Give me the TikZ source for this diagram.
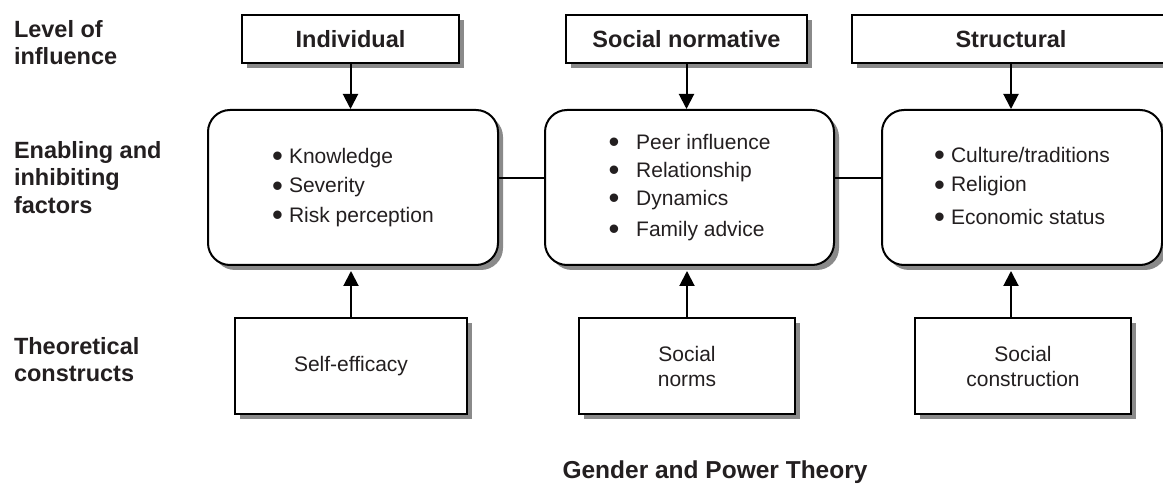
\documentclass[tikz,border=0pt]{standalone}
\usepackage{fontspec}
\setmainfont{Liberation Sans}
\usetikzlibrary{arrows.meta}
\usetikzlibrary{shadows}
\tikzset{>={Triangle[width=15pt,length=15pt]}}
\definecolor{shadowgray}{HTML}{8A8A8A}
\definecolor{ink}{HTML}{231F20}
\newcommand{\itm}[1][6pt]{\raisebox{-3.5pt}{\fontsize{31}{0}\selectfont\textbullet}\hspace{#1}}

\tikzset{
  boxshadow/.style={drop shadow={shadow xshift=5pt, shadow yshift=-5pt,
      fill=shadowgray, opacity=1}},
  levelbox/.style={draw, fill=white, boxshadow, inner sep=0pt,
      minimum height=48pt, text=ink,
      font=\fontsize{23.5}{27}\selectfont\bfseries},
  factorbox/.style={draw, fill=white, boxshadow, rounded corners=22pt,
      minimum height=155pt, align=left, text=ink,
      font=\fontsize{21}{29.5}\selectfont},
  constructbox/.style={draw, fill=white, boxshadow, minimum height=96pt,
      align=center, text=ink, font=\fontsize{21}{25}\selectfont},
  rowlabel/.style={anchor=north west, inner sep=0pt, align=left, text=ink,
      font=\fontsize{23.5}{27.5}\selectfont\bfseries},
}

\begin{document}
\begin{tikzpicture}[x=1pt, y=1pt, line width=2pt]

\clip (0,0) rectangle (1163,-486); %% page size

%% row labels
\node[rowlabel] (lvl) at (13,-19) {Level of\\influence};
\node[rowlabel] (enb) at (13,-140) {Enabling and\\inhibiting\\factors};
\node[rowlabel] (thc) at (13,-336) {Theoretical\\constructs};

%% level of influence
\node[levelbox, minimum width=217pt] (ind) at (350.5,-39) {Individual};
\node[levelbox, minimum width=241pt] (soc) at (686.5,-39) {Social normative};
\node[levelbox, minimum width=318pt] (str) at (1011,-39) {Structural};

%% factors
\node[factorbox, minimum width=290pt] (fac1) at (353,-187.5)
  {\itm Knowledge\\ \itm Severity\\ \itm Risk perception};
\node[factorbox, minimum width=289pt, font=\fontsize{21}{28}\selectfont] (fac2) at (689.5,-187.5)
  {\itm[11pt] Peer influence\\ \itm[11pt] Relationship\\ \itm[11pt] Dynamics\\[3pt] \itm[11pt] Family advice};
\node[factorbox, minimum width=280pt] (fac3) at (1022,-187.5)
  {\itm Culture/traditions\\ \itm Religion\\[3pt] \itm Economic status};

%% constructs
\node[constructbox, minimum width=232pt] (con1) at (351,-366.5) {Self-efficacy};
\node[constructbox, minimum width=216pt] (con2) at (687,-366) {Social\\norms};
\node[constructbox, minimum width=216pt] (con3) at (1023,-366) {Social\\construction};

\node[text=ink, font=\fontsize{24.5}{28}\selectfont\bfseries] (title) at (715,-472)
  {Gender and Power Theory};

%% arrows down
\draw[->] (ind.south) -- (ind.south |- fac1.north);
\draw[->] (soc.south) -- (soc.south |- fac2.north);
\draw[->] (str.south) -- (str.south |- fac3.north);

%% arrows up
\draw[->, shorten >=5pt] (con1.north) -- (con1.north |- fac1.south);
\draw[->, shorten >=5pt] (con2.north) -- (con2.north |- fac2.south);
\draw[->, shorten >=5pt] (con3.north -| str.south) -- (str.south |- fac3.south);

%% links
\draw ([yshift=9.5pt]fac1.east) -- ([yshift=9.5pt]fac1.east -| fac2.west);
\draw ([yshift=9.5pt]fac2.east) -- ([yshift=9.5pt]fac2.east -| fac3.west);

\end{tikzpicture}
\end{document}
